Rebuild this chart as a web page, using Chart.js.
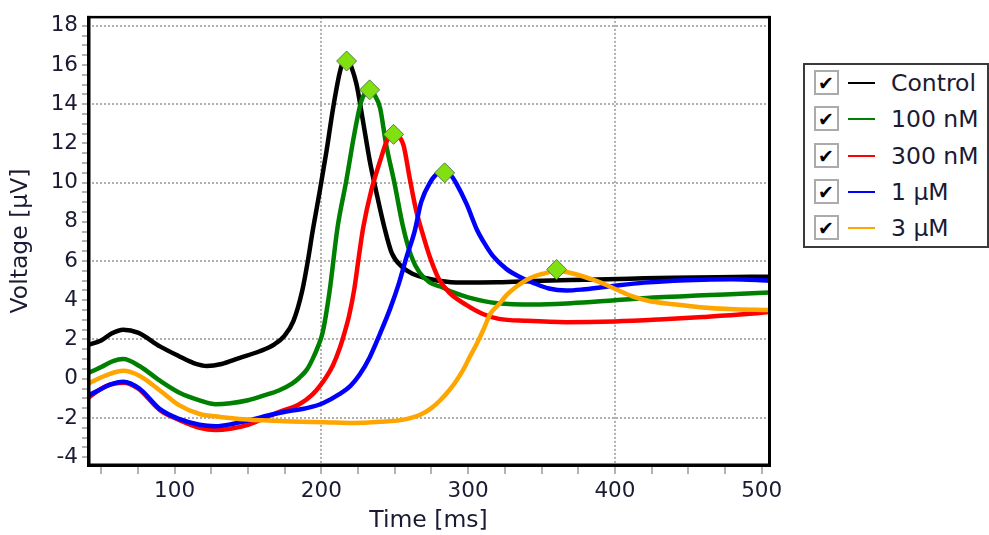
<!DOCTYPE html>
<html>
<head>
<meta charset="utf-8">
<script src="https://cdn.jsdelivr.net/npm/chart.js@4.4.1/dist/chart.umd.min.js"></script>
<style>
html,body{margin:0;padding:0;background:#fff;}
#wrap{position:relative;width:989px;height:535px;overflow:hidden;background:#fff;}
#c{position:absolute;left:0;top:0;}
#legend{position:absolute;left:803px;top:63px;width:182px;height:181px;border:2px solid #3a3a3a;background:#fff;font-family:"DejaVu Sans",Verdana,sans-serif;font-size:23.5px;color:#1a1a33;}
.row{position:absolute;left:0;width:180px;height:30px;}
.box{position:absolute;left:9px;top:2px;width:21px;height:21px;border:2px solid #ababab;background:#fff;}
.box span{position:absolute;left:2px;top:0px;font-size:19px;line-height:22px;color:#000;font-weight:bold;}
.swatch{position:absolute;left:43px;top:14px;width:27px;height:2px;}
.lbl{position:absolute;left:86px;top:0px;line-height:30px;white-space:nowrap;}
</style>
</head>
<body>
<div id="wrap">
<canvas id="c" width="989" height="535"></canvas>
<div id="legend"></div>
</div>
<script>
// ---- data ----
const seriesNames  = ["Control", "100 nM", "300 nM", "1 µM", "3 µM"];
const seriesColors = ["#000000", "#008000", "#ff0000", "#0000ff", "#ffa500"];

const timeCtrl = [40,50,57,65,75,90,103,113,122,132,144,158,168,175,181,187,191,194,199,203.5,208,212.5,215.5,217.5,220,224,228,233,237.5,243,248,255,262,270,280,295,320,350,380,410,440,470,505];
const voltCtrl = [1.7,1.95,2.3,2.5,2.35,1.65,1.15,0.8,0.65,0.75,1.05,1.4,1.75,2.2,2.95,4.5,6.1,7.5,9.6,11.6,13.8,15.6,16.3,16.4,16.0,15.0,13.3,11.1,9.5,7.7,6.4,5.7,5.35,5.15,5.0,4.9,4.92,5.0,5.05,5.1,5.15,5.18,5.2];

const time100nM = [40,50,58,65,76,90,103,117,128,138,150,161,171,180,185,190,194,198,201,205.5,211,217,222.5,227,230,233,236,240,244,250,255.5,261,267,274,281,290,300,320,345,370,400,430,460,490,505];
const volt100nM = [0.25,0.6,0.9,1.0,0.65,-0.1,-0.7,-1.1,-1.3,-1.25,-1.1,-0.85,-0.6,-0.25,0.05,0.45,1.0,1.7,2.4,4.4,7.7,10.1,12.5,14.1,14.6,14.75,14.5,13.8,12.0,9.9,7.8,6.3,5.4,4.9,4.7,4.4,4.15,3.85,3.78,3.85,4.0,4.15,4.25,4.35,4.4];

const time300nM = [40,48,56,65,75,90,103,117,128,138,150,160,171,185,194,203,208,212.5,216,219,222.5,225.5,228.5,234,240,244.5,249,252,256,260,264.5,269,274,280,287,299,310,321,340,367,400,430,460,490,505];
const volt300nM = [-1.05,-0.6,-0.3,-0.2,-0.5,-1.6,-2.1,-2.5,-2.62,-2.55,-2.35,-2.05,-1.7,-1.3,-0.8,0.05,0.7,1.55,2.4,3.25,4.6,6.2,7.7,9.6,11.1,12.1,12.45,12.4,11.9,10.3,8.6,7.4,6.2,5.1,4.4,3.75,3.3,3.05,2.95,2.88,2.92,3.02,3.15,3.3,3.4];

const time1uM = [40,48,56,65,76,90,103,117,128,140,152,165,178,190,201,212,220,226,233,240,247,253,258,263.5,268,274,280,284,288,292,299,306,312,317,326,335,344,355,367,378,390,401,420,440,460,480,505];
const volt1uM = [-0.9,-0.6,-0.3,-0.15,-0.5,-1.55,-2.05,-2.35,-2.42,-2.3,-2.1,-1.85,-1.65,-1.5,-1.25,-0.8,-0.35,0.2,1.1,2.3,3.6,4.9,6.2,7.5,9.0,10.0,10.5,10.55,10.4,9.95,8.9,7.6,6.8,6.25,5.6,5.2,4.9,4.6,4.5,4.55,4.65,4.75,4.9,5.0,5.05,5.07,5.0];

const time3uM = [40,48,56,65,76,90,103,117,131,144,160,180,203,222,240,255,267,275,281,287,292,297,301,306,311,315,321,326,333,340,346,351,356,360,366,372,379,385,392,401,412,424,440,458,478,505];
const volt3uM = [-0.3,0.0,0.25,0.4,0.15,-0.6,-1.35,-1.8,-1.95,-2.05,-2.12,-2.18,-2.22,-2.26,-2.2,-2.1,-1.85,-1.5,-1.1,-0.6,-0.1,0.5,1.1,1.8,2.6,3.3,3.8,4.25,4.7,5.05,5.25,5.35,5.45,5.5,5.45,5.35,5.2,5.05,4.85,4.55,4.2,3.95,3.8,3.65,3.55,3.5];

const peakTime = [217.2, 232.9, 249.2, 284.0, 360.3];
const peakVolt = [16.2, 14.73, 12.46, 10.5, 5.57];

const xTickValues = [50,75,100,125,150,175,200,225,250,275,300,325,350,375,400,425,450,475,500];
const yTickValues = [-4,-3.5,-3,-2.5,-2,-1.5,-1,-0.5,0,0.5,1,1.5,2,2.5,3,3.5,4,4.5,5,5.5,6,6.5,7,7.5,8,8.5,9,9.5,10,10.5,11,11.5,12,12.5,13,13.5,14,14.5,15,15.5,16,16.5,17,17.5,18];

// ---- build ----
const FONT = '"DejaVu Sans", Verdana, sans-serif';
const TEXT = '#1a1a33';
const times = [timeCtrl, time100nM, time300nM, time1uM, time3uM];
const volts = [voltCtrl, volt100nM, volt300nM, volt1uM, volt3uM];

const datasets = [{
  label: 'peaks',
  data: peakTime.map((t, i) => ({x: t, y: peakVolt[i]})),
  showLine: false,
  pointStyle: 'rectRot',
  pointRadius: 10,
  pointBackgroundColor: '#80e010',
  pointBorderColor: '#5d7a55',
  pointBorderWidth: 1,
  order: 0
}];
for (let s = 0; s < seriesNames.length; s++) {
  datasets.push({
    label: seriesNames[s],
    data: times[s].map((t, i) => ({x: t, y: volts[s][i]})),
    borderColor: seriesColors[s],
    borderWidth: 4.5,
    pointRadius: 0,
    cubicInterpolationMode: 'monotone',
    order: 5 - s
  });
}

const framePlugin = {
  id: 'frame',
  afterDraw(chart) {
    const {ctx, chartArea: a} = chart;
    ctx.save();
    ctx.fillStyle = '#000';
    ctx.fillRect(a.left - 1, a.top - 1, a.right - a.left + 2, 2.5);       // top
    ctx.fillRect(a.right - 1, a.top - 1, 3, a.bottom - a.top + 3);        // right
    ctx.fillRect(a.left - 1, a.top - 1, 3.5, a.bottom - a.top + 3);       // left
    ctx.fillRect(a.left - 1, a.bottom - 1.5, a.right - a.left + 3, 3.5);  // bottom
    ctx.restore();
  }
};

new Chart(document.getElementById('c'), {
  type: 'line',
  data: {datasets},
  plugins: [framePlugin],
  options: {
    responsive: false,
    animation: false,
    events: [],
    layout: {padding: {left: 0, right: 220, top: 11, bottom: 0}},
    plugins: {legend: {display: false}, tooltip: {enabled: false}},
    scales: {
      x: {
        type: 'linear', min: 41, max: 505, bounds: 'data',
        afterBuildTicks: s => { s.ticks = xTickValues.map(v => ({value: v})); },
        afterFit: s => { s.height = 70; },
        ticks: {autoSkip: false, maxRotation: 0, padding: 5,
          callback: v => (v % 100 === 0 ? String(v) : ''),
          font: {family: FONT, size: 21.5}, color: TEXT},
        grid: {
          color: c => (c.tick && c.tick.value % 200 === 0 ? '#b0b0b0' : 'rgba(0,0,0,0)'),
          tickColor: '#9a9a9a', tickLength: 9, lineWidth: 2, tickWidth: 1.5
        },
        border: {display: false, dash: [2, 2]},
        title: {display: true, text: 'Time [ms]', font: {family: FONT, size: 23.5}, color: TEXT, padding: {top: 0, bottom: 0}}
      },
      y: {
        type: 'linear', min: -4.4, max: 18.45, bounds: 'data',
        afterBuildTicks: s => { s.ticks = yTickValues.map(v => ({value: v})); },
        afterFit: s => { s.width = 88; },
        ticks: {autoSkip: false, padding: 4,
          callback: v => (v % 2 === 0 ? String(v) : ''),
          font: {family: FONT, size: 21.5}, color: TEXT},
        grid: {
          color: c => (c.tick && ((c.tick.value % 4) + 4) % 4 === 2 ? '#b0b0b0' : 'rgba(0,0,0,0)'),
          tickColor: '#9a9a9a', tickLength: 6, lineWidth: 2, tickWidth: 1.5
        },
        border: {display: false, dash: [2, 2]},
        title: {display: true, text: 'Voltage [µV]', font: {family: FONT, size: 23.5}, color: TEXT, padding: {top: 7, bottom: 0}}
      }
    }
  }
});

// ---- HTML legend ----
const legend = document.getElementById('legend');
const rowCenters = [18, 54.3, 90.6, 126.9, 163.2];
seriesNames.forEach((name, i) => {
  const row = document.createElement('div');
  row.className = 'row';
  row.style.top = (rowCenters[i] - 15) + 'px';
  row.innerHTML = '<div class="box"><span>✔</span></div>' +
    '<div class="swatch" style="background:' + seriesColors[i] + '"></div>' +
    '<div class="lbl">' + name + '</div>';
  legend.appendChild(row);
});
</script>
</body>
</html>
